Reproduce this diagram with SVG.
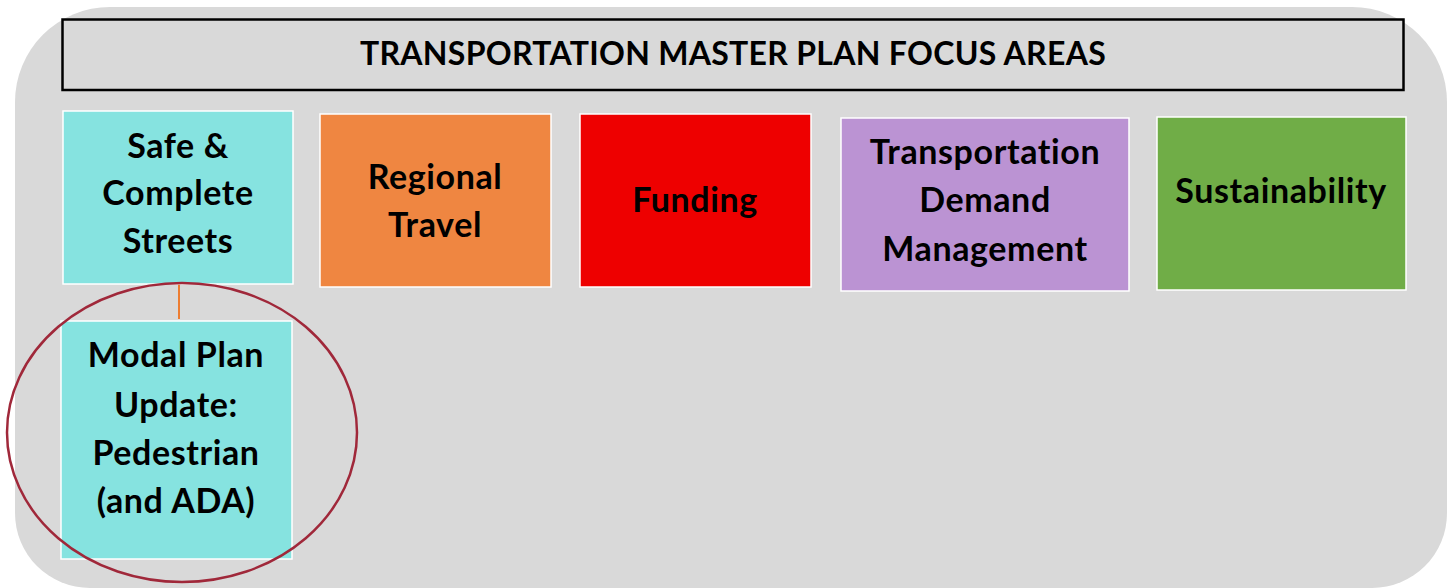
<svg xmlns="http://www.w3.org/2000/svg" width="1447" height="588" viewBox="0 0 1447 588">
<style>
.t{font-family:Lato,"Open Sans","Liberation Sans",sans-serif;font-weight:bold;font-size:34px;letter-spacing:0.6px;fill:#000;text-anchor:middle}
.h{font-size:32px;letter-spacing:0.3px}
.box{stroke:#ffffff;stroke-width:1.5}
</style>
<rect width="1447" height="588" fill="#ffffff"/>
<path id="bg" d="M110,7 H1352 A95,95 0 0 1 1447,102 V513 A75,75 0 0 1 1372,588 H90 A75,75 0 0 1 15,513 V102 A95,95 0 0 1 110,7 Z" fill="#d9d9d9"/>
<g id="title">
<rect x="62.5" y="19.5" width="1341" height="70.5" fill="#d9d9d9" stroke="#000" stroke-width="2.5"/>
<text class="t h" x="733" y="65">TRANSPORTATION MASTER PLAN FOCUS AREAS</text>
</g>
<g id="connectors">
<line x1="179" y1="284" x2="179" y2="319" stroke="#ed7d31" stroke-width="2"/>
</g>
<g id="safe">
<rect class="box" x="63" y="111" width="230" height="173" fill="#86e3e0"/>
<text class="t" x="178" y="158">Safe &amp;</text>
<text class="t" x="178" y="205">Complete</text>
<text class="t" x="178" y="253">Streets</text>
</g>
<g id="regional">
<rect class="box" x="320" y="114" width="231" height="173" fill="#ef8641"/>
<text class="t" x="435" y="189">Regional</text>
<text class="t" x="435" y="237">Travel</text>
</g>
<g id="funding">
<rect class="box" x="580" y="114" width="231" height="173" fill="#ee0000"/>
<text class="t" x="695" y="212">Funding</text>
</g>
<g id="tdm">
<rect class="box" x="841" y="118" width="288" height="173" fill="#bb93d3"/>
<text class="t" x="985" y="164">Transportation</text>
<text class="t" x="985" y="212">Demand</text>
<text class="t" x="985" y="261">Management</text>
</g>
<g id="sustainability">
<rect class="box" x="1157" y="117" width="249" height="173" fill="#70ad47"/>
<text class="t" x="1281" y="203">Sustainability</text>
</g>
<g id="modal">
<rect class="box" x="61" y="321" width="231" height="238" fill="#86e3e0"/>
<text class="t" x="176" y="367">Modal Plan</text>
<text class="t" x="176" y="417">Update:</text>
<text class="t" x="176" y="465">Pedestrian</text>
<text class="t" x="176" y="513">(and ADA)</text>
</g>
<ellipse id="highlight" cx="182" cy="432.5" rx="175" ry="149.5" fill="none" stroke="#a0283a" stroke-width="2.5"/>
</svg>
